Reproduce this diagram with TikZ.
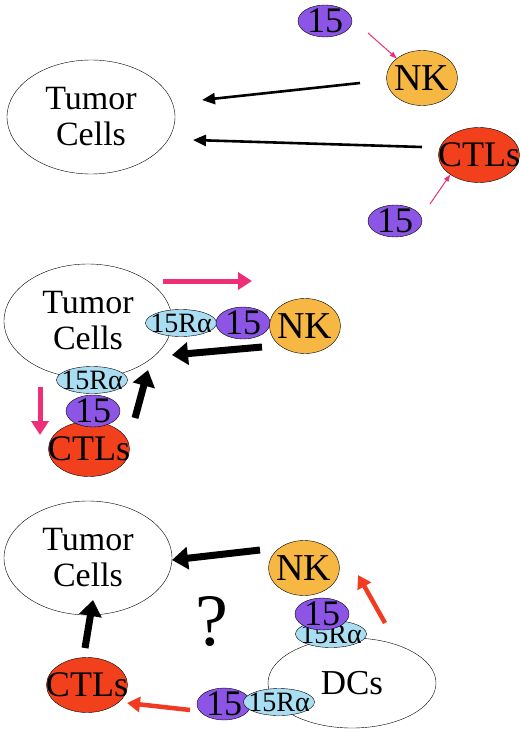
\documentclass[tikz,border=0pt]{standalone}
\usepackage{fontspec}
\setmainfont{Liberation Serif}
\usetikzlibrary{arrows.meta,shapes.geometric}
\definecolor{ilpurple}{HTML}{8C55E6}
\definecolor{nkorange}{HTML}{F7B843}
\definecolor{ctlred}{HTML}{F2401C}
\definecolor{rablue}{HTML}{A9DDF2}
\definecolor{pinkarrow}{HTML}{EE2F78}
\definecolor{redarrow}{HTML}{F03B22}
\tikzset{
  cell/.style={
    ellipse,
    draw=black,
    thin,
    inner sep=-30pt,
    align=center,
    fill=white
  },
  tumor/.style={cell, minimum width=168pt, minimum height=114pt,
    font=\fontsize{34}{36}\selectfont},
  nk/.style={cell, fill=nkorange, minimum width=71pt, minimum height=55pt,
    font=\fontsize{38}{40}\selectfont},
  ctl/.style={cell, fill=ctlred, minimum width=81pt, minimum height=55pt,
    font=\fontsize{36}{38}\selectfont},
  ilf/.style={cell, fill=ilpurple, minimum width=54pt, minimum height=32pt,
    font=\fontsize{36}{38}\selectfont},
  ralpha/.style={cell, fill=rablue, minimum width=71pt, minimum height=27pt,
    font=\fontsize{28}{30}\selectfont},
  dc/.style={cell, minimum width=168pt, minimum height=90pt,
    font=\fontsize{35}{37}\selectfont},
  kill/.style={-{Triangle[length=13pt,width=11pt]}, line width=2.6pt},
  bigkill/.style={-{Triangle[length=16pt,width=22pt]}, line width=7pt},
  stim/.style={-{Triangle[length=7pt,width=5pt]}, line width=1pt, draw=pinkarrow},
  bigstim/.style={-{Triangle[length=14pt,width=17pt]}, line width=5pt, draw=pinkarrow},
  transp/.style={-{Triangle[length=13pt,width=15pt]}, line width=4.5pt, draw=redarrow}
}

\begin{document}
\begin{tikzpicture}[x=1pt, y=-1pt]
\useasboundingbox[fill=white] (0,0) rectangle (520,733);

% Top: free IL-15
\node[tumor] (tumA) at (91,117) {Tumor\\Cells};
\node[ilf] (ilA1) at (325,21) {15};
\node[nk] (nkA) at (422,78) {NK};
\node[ctl] (ctlA) at (479,155) {CTLs};
\node[ilf] (ilA2) at (395,221) {15};

\coordinate (nkAout) at (360,83);
\coordinate (tumAin1) at (202,100);
\coordinate (ctlAout) at (422,147);
\coordinate (tumAin2) at (193,140);
\draw[kill] (nkAout) -- (tumAin1);
\draw[kill] (ctlAout) -- (tumAin2);
\draw[stim] (ilA1) ++(43,12) coordinate (ilA1s) -- (nkA.north west);
\draw[stim] (ilA2) ++(35,-17) coordinate (ilA2s) -- (ctlA.south west);

% Middle: trans-presentation by tumor cells
\node[tumor] (tumB) at (88,321) {Tumor\\Cells};
\node[ralpha] (raB1) at (181,323) {15Rα};
\node[ilf] (ilB1) at (243,323) {15};
\node[nk] (nkB) at (305,326) {NK};
\node[ralpha] (raB2) at (92,380) {15Rα};
\node[ctl] (ctlB) at (89,449) {CTLs};
\node[ilf] (ilB2) at (93,411) {15};

\coordinate (pushB1a) at (163,281);
\coordinate (pushB1b) at (252,281);
\coordinate (pushB2a) at (40,387);
\coordinate (pushB2b) at (40,435);
\draw[bigstim] (pushB1a) -- (pushB1b);
\draw[bigstim] (pushB2a) -- (pushB2b);
\coordinate (nkBout) at (262,347);
\coordinate (tumBin1) at (172,355);
\coordinate (ctlBout) at (135,418);
\coordinate (tumBin2) at (148,370);
\draw[bigkill] (nkBout) -- (tumBin1);
\draw[bigkill] (ctlBout) -- (tumBin2);

% Bottom: trans-presentation by DCs
\node[tumor] (tumC) at (88,558) {Tumor\\Cells};
\node[nk] (nkC) at (304,568) {NK};
\node[ctl] (ctlC) at (87,685) {CTLs};
\node[dc] (dcC) at (352,683) {DCs};
\node[ralpha] (raC1) at (331,634) {15Rα};
\node[ilf] (ilC1) at (322,614) {15};
\node[ilf] (ilC2) at (224,704) {15};
\node[ralpha] (raC2) at (279,702) {15Rα};
\node[font=\fontsize{74}{74}\selectfont] (query) at (212,622) {?};

\coordinate (nkCout) at (260,550);
\coordinate (tumCin1) at (172,560);
\coordinate (ctlCout) at (85,648);
\coordinate (tumCin2) at (93,600);
\draw[bigkill] (nkCout) -- (tumCin1);
\draw[bigkill] (ctlCout) -- (tumCin2);
\coordinate (dcCup) at (385,623);
\coordinate (nkCin) at (358,575);
\coordinate (dcCleft) at (190,710);
\coordinate (ctlCin) at (127,703);
\draw[transp] (dcCup) -- (nkCin);
\draw[transp] (dcCleft) -- (ctlCin);

\end{tikzpicture}
\end{document}
